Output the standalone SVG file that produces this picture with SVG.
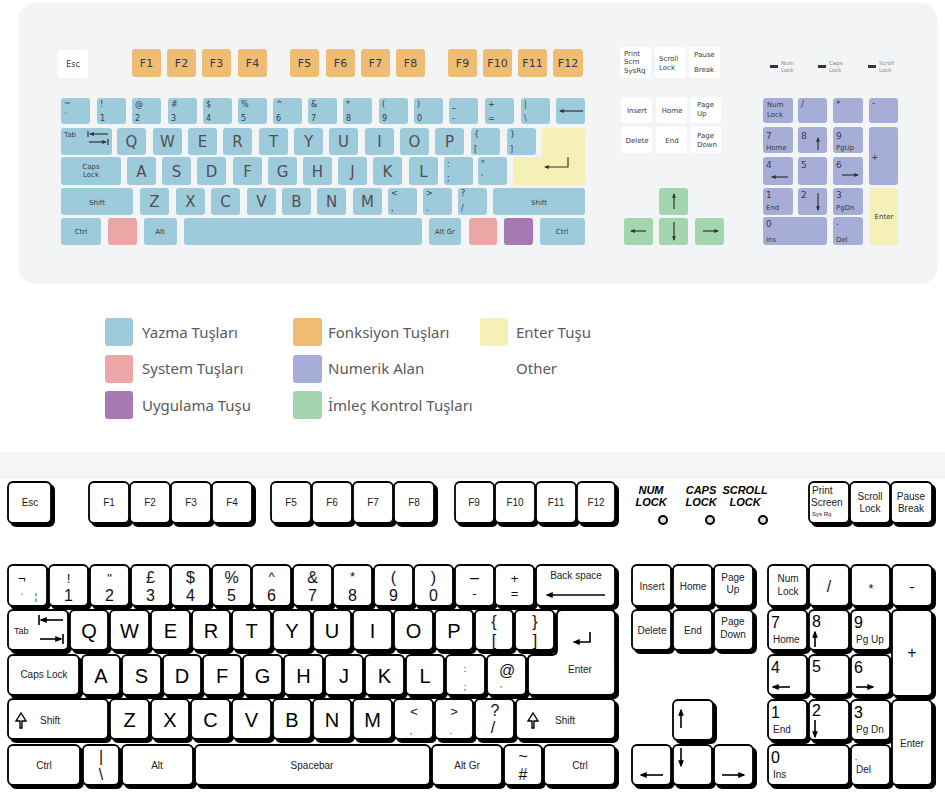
<svg xmlns="http://www.w3.org/2000/svg" xmlns:xlink="http://www.w3.org/1999/xlink" width="945" height="796" viewBox="0 0 945 796">
<defs>
<style>
.tk{stroke:none}
.b{fill:#9ecbdc}.o{fill:#efbc73}.y{fill:#f4f0b6}.p{fill:#eca6a6}.u{fill:#a779b2}.n{fill:#a6aed8}.g{fill:#a3d5ae}.w{fill:#ffffff}
.tt{font-family:"DejaVu Sans","Liberation Sans",sans-serif;fill:#3a3a3a}
.t7{font-size:7px}.t8{font-size:8px}.t9{font-size:9px}.t11{font-size:11px}.t15{font-size:15px;fill:#505050}
.lg{font-family:"Noto Sans","Open Sans",sans-serif;font-size:15px;fill:#5a5a5a}
.bt{font-family:"Liberation Sans",Arial,sans-serif;fill:#000}
.s10{font-size:10px;fill:#222}.s9{font-size:9px;fill:#222}.s13{font-size:13px}.s16{font-size:16px}.s20{font-size:20px}
.ar{stroke:#333;stroke-width:1.2;fill:none}
.ak{stroke:#000;stroke-width:1.6;fill:none}
</style>
<marker id="mg" viewBox="0 0 10 10" refX="8" refY="5" markerWidth="4" markerHeight="4" orient="auto-start-reverse"><path d="M0,1 L10,5 L0,9z" fill="#333"/></marker>
<marker id="mk" viewBox="0 0 10 10" refX="8" refY="5" markerWidth="4.5" markerHeight="4.5" orient="auto-start-reverse"><path d="M0,1 L10,5 L0,9z" fill="#000"/></marker>
</defs>
<rect width="945" height="796" fill="#ffffff"/>
<rect id="panel" x="18" y="3" width="920" height="281" rx="18" fill="#f2f4f6"/>

<!-- TOP COLOURED KEYBOARD -->
<g id="top-keys">
<rect class="w" x="58" y="50" width="30" height="28" rx="3"/>
<g class="o">
<rect x="132" y="49" width="29" height="28" rx="3"/><rect x="167" y="49" width="29" height="28" rx="3"/><rect x="202" y="49" width="29" height="28" rx="3"/><rect x="238" y="49" width="29" height="28" rx="3"/>
<rect x="290" y="49" width="29" height="28" rx="3"/><rect x="326" y="49" width="29" height="28" rx="3"/><rect x="361" y="49" width="29" height="28" rx="3"/><rect x="396" y="49" width="29" height="28" rx="3"/>
<rect x="448" y="49" width="29" height="28" rx="3"/><rect x="483" y="49" width="29" height="28" rx="3"/><rect x="518" y="49" width="29" height="28" rx="3"/><rect x="553" y="49" width="30" height="28" rx="3"/>
</g>
<g class="b">
<rect x="61" y="98" width="29" height="26" rx="3"/><rect x="97" y="98" width="29" height="26" rx="3"/><rect x="132" y="98" width="29" height="26" rx="3"/><rect x="168" y="98" width="29" height="26" rx="3"/><rect x="203" y="98" width="29" height="26" rx="3"/><rect x="238" y="98" width="29" height="26" rx="3"/><rect x="273" y="98" width="29" height="26" rx="3"/><rect x="308" y="98" width="29" height="26" rx="3"/><rect x="343" y="98" width="29" height="26" rx="3"/><rect x="379" y="98" width="29" height="26" rx="3"/><rect x="414" y="98" width="29" height="26" rx="3"/><rect x="449" y="98" width="29" height="26" rx="3"/><rect x="485" y="98" width="29" height="26" rx="3"/><rect x="521" y="98" width="29" height="26" rx="3"/><rect x="556" y="98" width="29" height="26" rx="3"/>
<rect x="61" y="128" width="51" height="27" rx="3"/><rect x="117" y="128" width="29" height="27" rx="3"/><rect x="153" y="128" width="29" height="27" rx="3"/><rect x="188" y="128" width="29" height="27" rx="3"/><rect x="223" y="128" width="29" height="27" rx="3"/><rect x="259" y="128" width="29" height="27" rx="3"/><rect x="294" y="128" width="29" height="27" rx="3"/><rect x="329" y="128" width="29" height="27" rx="3"/><rect x="365" y="128" width="29" height="27" rx="3"/><rect x="400" y="128" width="29" height="27" rx="3"/><rect x="435" y="128" width="29" height="27" rx="3"/><rect x="471" y="128" width="29" height="27" rx="3"/><rect x="507" y="128" width="29" height="27" rx="3"/>
<rect x="61" y="157" width="60" height="28" rx="3"/><rect x="127" y="157" width="29" height="28" rx="3"/><rect x="162" y="157" width="29" height="28" rx="3"/><rect x="197" y="157" width="29" height="28" rx="3"/><rect x="233" y="157" width="29" height="28" rx="3"/><rect x="268" y="157" width="29" height="28" rx="3"/><rect x="303" y="157" width="29" height="28" rx="3"/><rect x="338" y="157" width="29" height="28" rx="3"/><rect x="373" y="157" width="29" height="28" rx="3"/><rect x="409" y="157" width="29" height="28" rx="3"/><rect x="444" y="157" width="29" height="28" rx="3"/><rect x="478" y="157" width="29" height="28" rx="3"/>
<rect x="61" y="188" width="72" height="27" rx="3"/><rect x="140" y="188" width="29" height="27" rx="3"/><rect x="176" y="188" width="29" height="27" rx="3"/><rect x="211" y="188" width="29" height="27" rx="3"/><rect x="247" y="188" width="29" height="27" rx="3"/><rect x="282" y="188" width="29" height="27" rx="3"/><rect x="317" y="188" width="29" height="27" rx="3"/><rect x="353" y="188" width="29" height="27" rx="3"/><rect x="388" y="188" width="29" height="27" rx="3"/><rect x="423" y="188" width="29" height="27" rx="3"/><rect x="458" y="188" width="29" height="27" rx="3"/><rect x="493" y="188" width="92" height="27" rx="3"/>
<rect x="61" y="218" width="40" height="27" rx="3"/><rect x="144" y="218" width="33" height="27" rx="3"/><rect x="184" y="218" width="238" height="27" rx="3"/><rect x="429" y="218" width="32" height="27" rx="3"/><rect x="540" y="218" width="45" height="27" rx="3"/>
</g>
<path class="y" d="M545,128 H582 Q585,128 585,131 V182 Q585,185 582,185 H516 Q513,185 513,182 V160 Q513,157 516,157 H542 V131 Q542,128 545,128 Z"/>
<rect class="p" x="108" y="218" width="29" height="27" rx="3"/>
<rect class="p" x="469" y="218" width="28" height="27" rx="3"/>
<rect class="u" x="504" y="218" width="29" height="27" rx="3"/>
<!-- nav white keys -->
<g class="w">
<rect x="620" y="47" width="31" height="31" rx="3"/><rect x="655" y="47" width="31" height="31" rx="3"/><rect x="689" y="47" width="31" height="31" rx="3"/>
<rect x="621" y="97" width="31" height="26" rx="3"/><rect x="656" y="97" width="31" height="26" rx="3"/><rect x="690" y="97" width="31" height="26" rx="3"/>
<rect x="621" y="127" width="31" height="26" rx="3"/><rect x="656" y="127" width="31" height="26" rx="3"/><rect x="690" y="127" width="31" height="26" rx="3"/>
</g>
<g class="g">
<rect x="659" y="188" width="29" height="27" rx="3"/><rect x="624" y="218" width="29" height="27" rx="3"/><rect x="659" y="218" width="29" height="27" rx="3"/><rect x="695" y="218" width="29" height="27" rx="3"/>
</g>
<g class="n">
<rect x="763" y="98" width="30" height="25" rx="3"/><rect x="798" y="98" width="29" height="25" rx="3"/><rect x="833" y="98" width="30" height="25" rx="3"/><rect x="869" y="98" width="29" height="25" rx="3"/>
<rect x="763" y="127" width="30" height="26" rx="3"/><rect x="798" y="127" width="29" height="26" rx="3"/><rect x="833" y="127" width="30" height="26" rx="3"/><rect x="869" y="127" width="29" height="58" rx="3"/>
<rect x="763" y="157" width="30" height="28" rx="3"/><rect x="798" y="157" width="29" height="28" rx="3"/><rect x="833" y="157" width="30" height="28" rx="3"/>
<rect x="763" y="188" width="30" height="27" rx="3"/><rect x="798" y="188" width="29" height="27" rx="3"/><rect x="833" y="188" width="30" height="27" rx="3"/>
<rect x="763" y="217" width="64" height="28" rx="3"/><rect x="833" y="217" width="30" height="28" rx="3"/>
</g>
<rect class="y" x="869" y="188" width="29" height="57" rx="3"/>
<!-- indicator bars -->
<g fill="#333">
<rect x="770" y="65" width="8" height="3"/><rect x="818" y="65" width="8" height="3"/><rect x="868" y="65" width="8" height="3"/>
</g>
</g>

<g id="top-labels" class="tt">
<text class="t8" x="73" y="67" text-anchor="middle">Esc</text>
<g class="t11" text-anchor="middle">
<text x="146.5" y="67">F1</text><text x="181.5" y="67">F2</text><text x="216.5" y="67">F3</text><text x="252.5" y="67">F4</text>
<text x="304.5" y="67">F5</text><text x="340.5" y="67">F6</text><text x="375.5" y="67">F7</text><text x="410.5" y="67">F8</text>
<text x="462.5" y="67">F9</text><text x="497.5" y="67">F10</text><text x="532.5" y="67">F11</text><text x="568" y="67">F12</text>
</g>
<g class="t8">
<text x="64" y="106">~</text><text x="64" y="120">`</text>
<text x="100" y="107">!</text><text x="100" y="121">1</text>
<text x="135" y="107">@</text><text x="135" y="121">2</text>
<text x="171" y="107">#</text><text x="171" y="121">3</text>
<text x="206" y="107">$</text><text x="206" y="121">4</text>
<text x="241" y="107">%</text><text x="241" y="121">5</text>
<text x="276" y="107">^</text><text x="276" y="121">6</text>
<text x="311" y="107">&amp;</text><text x="311" y="121">7</text>
<text x="346" y="107">*</text><text x="346" y="121">8</text>
<text x="382" y="107">(</text><text x="382" y="121">9</text>
<text x="417" y="107">)</text><text x="417" y="121">0</text>
<text x="452" y="107">_</text><text x="452" y="121">-</text>
<text x="488" y="107">+</text><text x="488" y="121">=</text>
<text x="524" y="107">|</text><text x="524" y="121">\</text>
<text x="474" y="137">{</text><text x="474" y="152">[</text>
<text x="510" y="137">}</text><text x="510" y="152">]</text>
<text x="447" y="167">:</text><text x="447" y="181">;</text>
<text x="481" y="167">"</text><text x="481" y="181">'</text>
<text x="391" y="196">&lt;</text><text x="391" y="211">,</text>
<text x="426" y="196">&gt;</text><text x="426" y="211">.</text>
<text x="461" y="196">?</text><text x="461" y="211">/</text>
</g>
<g class="t15" text-anchor="middle">
<text x="131.5" y="147">Q</text><text x="167.5" y="147">W</text><text x="202.5" y="147">E</text><text x="237.5" y="147">R</text><text x="273.5" y="147">T</text><text x="308.5" y="147">Y</text><text x="343.5" y="147">U</text><text x="379.5" y="147">I</text><text x="414.5" y="147">O</text><text x="449.5" y="147">P</text>
<text x="141.5" y="177">A</text><text x="176.5" y="177">S</text><text x="211.5" y="177">D</text><text x="247.5" y="177">F</text><text x="282.5" y="177">G</text><text x="317.5" y="177">H</text><text x="352.5" y="177">J</text><text x="387.5" y="177">K</text><text x="423.5" y="177">L</text>
<text x="154.5" y="207">Z</text><text x="190.5" y="207">X</text><text x="225.5" y="207">C</text><text x="261.5" y="207">V</text><text x="296.5" y="207">B</text><text x="331.5" y="207">N</text><text x="367.5" y="207">M</text>
</g>
<g class="t7" text-anchor="middle">
<text x="70" y="137">Tab</text>
<text x="91" y="169">Caps</text><text x="91" y="177">Lock</text>
<text x="97" y="205">Shift</text><text x="539" y="205">Shift</text>
<text x="81" y="234">Ctrl</text><text x="160" y="234">Alt</text><text x="445" y="234">Alt Gr</text><text x="562" y="234">Ctrl</text>
<text x="884" y="219">Enter</text>
<text x="637" y="113">Insert</text><text x="672" y="113">Home</text>
<text x="637" y="143">Delete</text><text x="672" y="143">End</text>
</g>
<g class="t7">
<text x="624" y="56">Print</text><text x="624" y="64">Scrn</text><text x="624" y="73">SysRq</text>
<text x="659" y="61">Scroll</text><text x="659" y="70">Lock</text>
<text x="694" y="57">Pause</text><text x="694" y="72">Break</text>
<text x="697" y="107">Page</text><text x="697" y="116">Up</text>
<text x="697" y="138">Page</text><text x="697" y="147">Down</text>
<text x="767" y="107">Num</text><text x="767" y="117">Lock</text>
<text x="766" y="150">Home</text><text x="836" y="150">PgUp</text>
<text x="766" y="210">End</text><text x="836" y="210">PgDn</text>
<text x="766" y="242">Ins</text><text x="836" y="242">Del</text>
</g>
<g class="t9">
<text x="801" y="107">/</text><text x="836" y="107">*</text><text x="872" y="106">-</text>
<text x="766" y="139">7</text><text x="801" y="139">8</text><text x="836" y="139">9</text>
<text x="871" y="160">+</text>
<text x="766" y="168">4</text><text x="801" y="168">5</text><text x="836" y="168">6</text>
<text x="766" y="198">1</text><text x="801" y="198">2</text><text x="836" y="198">3</text>
<text x="766" y="227">0</text><text x="836" y="225">.</text>
</g>
<g style="font-size:5.5px;fill:#8a8a8a">
<text x="781" y="65">Num</text><text x="781" y="72">Lock</text>
<text x="829" y="65">Caps</text><text x="829" y="72">Lock</text>
<text x="879" y="65">Scroll</text><text x="879" y="72">Lock</text>
</g>
</g>

<g id="top-arrows" class="ar">
<path d="M108,134 H90" marker-end="url(#mg)"/><path d="M88,131 V137"/>
<path d="M89,142 H106" marker-end="url(#mg)"/><path d="M108,139 V145"/>
<path d="M583,111 H560" marker-end="url(#mg)"/>
<path d="M568,157 V167 H545" marker-end="url(#mg)"/>
<path d="M818,150 V138" marker-end="url(#mg)"/>
<path d="M788,177 H772" marker-end="url(#mg)"/>
<path d="M842,175 H858" marker-end="url(#mg)"/>
<path d="M818,193 V210" marker-end="url(#mg)"/>
<path d="M674,209 V194" marker-end="url(#mg)"/>
<path d="M646,231 H631" marker-end="url(#mg)"/>
<path d="M674,222 V240" marker-end="url(#mg)"/>
<path d="M703,231 H718" marker-end="url(#mg)"/>
</g>

<!-- LEGEND -->
<g id="legend">
<rect class="b" x="105" y="318" width="28" height="28" rx="3"/>
<rect class="p" x="105" y="355" width="28" height="28" rx="3"/>
<rect class="u" x="105" y="391" width="28" height="28" rx="3"/>
<rect class="o" x="293" y="318" width="29" height="28" rx="3"/>
<rect class="n" x="293" y="355" width="29" height="28" rx="3"/>
<rect class="g" x="293" y="391" width="29" height="28" rx="3"/>
<rect class="y" x="480" y="318" width="28" height="28" rx="3"/>
<text class="lg" x="142" y="338">Yazma Tuşları</text>
<text class="lg" x="142" y="374">System Tuşları</text>
<text class="lg" x="142" y="411">Uygulama Tuşu</text>
<text class="lg" x="328" y="338">Fonksiyon Tuşları</text>
<text class="lg" x="328" y="374">Numerik Alan</text>
<text class="lg" x="328" y="411">İmleç Kontrol Tuşları</text>
<text class="lg" x="516" y="338">Enter Tuşu</text>
<text class="lg" x="516" y="374">Other</text>
</g>

<rect x="0" y="452" width="945" height="27" fill="#f5f5f5"/>

<!-- BOTTOM BLACK & WHITE KEYBOARD -->
<use xlink:href="#bkr" href="#bkr" fill="#000" stroke="#000" stroke-width="2" transform="translate(3,3)"/>
<g fill="#fff" stroke="#000" stroke-width="1.8">
<g id="bkr">
<rect x="8" y="482" width="43" height="41" rx="5"/>
<rect x="89" y="482" width="40" height="41" rx="5"/><rect x="130" y="482" width="40" height="41" rx="5"/><rect x="171" y="482" width="40" height="41" rx="5"/><rect x="212" y="482" width="40" height="41" rx="5"/>
<rect x="271" y="482" width="40" height="41" rx="5"/><rect x="312" y="482" width="40" height="41" rx="5"/><rect x="353" y="482" width="40" height="41" rx="5"/><rect x="394" y="482" width="40" height="41" rx="5"/>
<rect x="455" y="482" width="39" height="41" rx="5"/><rect x="495" y="482" width="40" height="41" rx="5"/><rect x="536" y="482" width="40" height="41" rx="5"/><rect x="577" y="482" width="38" height="41" rx="5"/>
<rect x="809" y="482" width="40" height="41" rx="5"/><rect x="850" y="482" width="40" height="41" rx="5"/><rect x="891" y="482" width="41" height="41" rx="5"/>

<rect x="8" y="565" width="39" height="41" rx="5"/><rect x="49" y="565" width="39" height="41" rx="5"/><rect x="90" y="565" width="39" height="41" rx="5"/><rect x="131" y="565" width="39" height="41" rx="5"/><rect x="171" y="565" width="39" height="41" rx="5"/><rect x="212" y="565" width="39" height="41" rx="5"/><rect x="252" y="565" width="39" height="41" rx="5"/><rect x="293" y="565" width="39" height="41" rx="5"/><rect x="333" y="565" width="39" height="41" rx="5"/><rect x="374" y="565" width="39" height="41" rx="5"/><rect x="414" y="565" width="39" height="41" rx="5"/><rect x="455" y="565" width="39" height="41" rx="5"/><rect x="495" y="565" width="39" height="41" rx="5"/><rect x="536" y="565" width="79" height="41" rx="5"/>

<rect x="8" y="610" width="60" height="40" rx="5"/><rect x="70" y="610" width="38" height="40" rx="5"/><rect x="110" y="610" width="39" height="40" rx="5"/><rect x="151" y="610" width="39" height="40" rx="5"/><rect x="192" y="610" width="38" height="40" rx="5"/><rect x="232" y="610" width="39" height="40" rx="5"/><rect x="273" y="610" width="38" height="40" rx="5"/><rect x="313" y="610" width="38" height="40" rx="5"/><rect x="353" y="610" width="39" height="40" rx="5"/><rect x="394" y="610" width="39" height="40" rx="5"/><rect x="435" y="610" width="38" height="40" rx="5"/><rect x="475" y="610" width="38" height="40" rx="5"/><rect x="515" y="610" width="39" height="40" rx="5"/>
<path d="M562,610 H610 Q615,610 615,615 V690 Q615,695 610,695 H533 Q528,695 528,690 V660 Q528,655 533,655 H552 Q557,655 557,650 V615 Q557,610 562,610 Z"/>

<rect x="8" y="655" width="71" height="40" rx="5"/><rect x="82" y="655" width="38" height="40" rx="5"/><rect x="122" y="655" width="39" height="40" rx="5"/><rect x="163" y="655" width="38" height="40" rx="5"/><rect x="203" y="655" width="38" height="40" rx="5"/><rect x="243" y="655" width="39" height="40" rx="5"/><rect x="284" y="655" width="39" height="40" rx="5"/><rect x="325" y="655" width="38" height="40" rx="5"/><rect x="365" y="655" width="39" height="40" rx="5"/><rect x="406" y="655" width="38" height="40" rx="5"/><rect x="446" y="655" width="39" height="40" rx="5"/><rect x="487" y="655" width="39" height="40" rx="5"/>

<rect x="8" y="699" width="100" height="40" rx="5"/><rect x="110" y="699" width="39" height="40" rx="5"/><rect x="151" y="699" width="38" height="40" rx="5"/><rect x="191" y="699" width="39" height="40" rx="5"/><rect x="232" y="699" width="39" height="40" rx="5"/><rect x="273" y="699" width="38" height="40" rx="5"/><rect x="313" y="699" width="38" height="40" rx="5"/><rect x="353" y="699" width="39" height="40" rx="5"/><rect x="394" y="699" width="39" height="40" rx="5"/><rect x="435" y="699" width="38" height="40" rx="5"/><rect x="475" y="699" width="39" height="40" rx="5"/><rect x="516" y="699" width="99" height="40" rx="5"/>

<rect x="8" y="745" width="72" height="40" rx="5"/><rect x="83" y="745" width="36" height="40" rx="5"/><rect x="122" y="745" width="71" height="40" rx="5"/><rect x="195" y="745" width="235" height="40" rx="5"/><rect x="432" y="745" width="70" height="40" rx="5"/><rect x="504" y="745" width="38" height="40" rx="5"/><rect x="544" y="745" width="71" height="40" rx="5"/>

<rect x="632" y="565" width="39" height="41" rx="5"/><rect x="673" y="565" width="39" height="41" rx="5"/><rect x="714" y="565" width="39" height="41" rx="5"/>
<rect x="632" y="610" width="39" height="40" rx="5"/><rect x="673" y="610" width="39" height="40" rx="5"/><rect x="714" y="610" width="39" height="40" rx="5"/>
<rect x="673" y="700" width="40" height="40" rx="5"/>
<rect x="632" y="745" width="39" height="40" rx="5"/><rect x="673" y="745" width="39" height="40" rx="5"/><rect x="714" y="745" width="39" height="40" rx="5"/>

<rect x="768" y="565" width="39" height="41" rx="5"/><rect x="809" y="565" width="40" height="41" rx="5"/><rect x="851" y="565" width="39" height="41" rx="5"/><rect x="892" y="565" width="40" height="41" rx="5"/>
<rect x="768" y="610" width="39" height="40" rx="5"/><rect x="809" y="610" width="40" height="40" rx="5"/><rect x="851" y="610" width="39" height="40" rx="5"/><rect x="892" y="610" width="40" height="86" rx="5"/>
<rect x="768" y="655" width="39" height="40" rx="5"/><rect x="809" y="655" width="40" height="40" rx="5"/><rect x="851" y="655" width="39" height="40" rx="5"/>
<rect x="768" y="700" width="39" height="40" rx="5"/><rect x="809" y="700" width="40" height="40" rx="5"/><rect x="851" y="700" width="39" height="40" rx="5"/><rect x="892" y="700" width="40" height="85" rx="5"/>
<rect x="768" y="745" width="81" height="40" rx="5"/><rect x="851" y="745" width="39" height="40" rx="5"/>
</g>
</g>

<g id="leds" fill="#ddd" stroke="#000" stroke-width="2">
<circle cx="663" cy="520" r="4"/><circle cx="710" cy="520" r="4"/><circle cx="763" cy="520" r="4"/>
</g>

<g id="bottom-labels" class="bt">
<g style="font-size:11px;font-weight:bold;font-style:italic" text-anchor="middle">
<text x="651" y="494">NUM</text><text x="651" y="506">LOCK</text>
<text x="701" y="494">CAPS</text><text x="701" y="506">LOCK</text>
<text x="745" y="494">SCROLL</text><text x="745" y="506">LOCK</text>
</g>
<g class="s10" text-anchor="middle">
<text x="30" y="506">Esc</text>
<text x="109" y="506">F1</text><text x="150" y="506">F2</text><text x="191" y="506">F3</text><text x="232" y="506">F4</text>
<text x="291" y="506">F5</text><text x="332" y="506">F6</text><text x="373" y="506">F7</text><text x="414" y="506">F8</text>
<text x="474" y="506">F9</text><text x="515" y="506">F10</text><text x="556" y="506">F11</text><text x="596" y="506">F12</text>
<text x="870" y="500">Scroll</text><text x="870" y="512">Lock</text>
<text x="911" y="500">Pause</text><text x="911" y="512">Break</text>
<text x="576" y="579">Back space</text>
<text x="580" y="673">Enter</text>
<text x="44" y="678">Caps Lock</text>
<text x="44" y="769">Ctrl</text><text x="157" y="769">Alt</text><text x="312" y="769">Spacebar</text><text x="467" y="769">Alt Gr</text><text x="580" y="769">Ctrl</text>
<text x="652" y="590">Insert</text><text x="693" y="590">Home</text>
<text x="652" y="634">Delete</text><text x="693" y="634">End</text>
<text x="733" y="581">Page</text><text x="733" y="593">Up</text>
<text x="733" y="625">Page</text><text x="733" y="638">Down</text>
<text x="788" y="582">Num</text><text x="788" y="595">Lock</text>
<text x="912" y="747">Enter</text>
</g>
<g class="s10">
<text x="812" y="494">Print</text><text x="811" y="506">Screen</text>
<text x="812" y="516" style="font-size:6px">Sys Rq</text>
<text x="14" y="634" class="s9">Tab</text>
<text x="40" y="724">Shift</text><text x="555" y="724">Shift</text>
<text x="773" y="643">Home</text><text x="856" y="643">Pg Up</text>
<text x="773" y="733">End</text><text x="856" y="733">Pg Dn</text>
<text x="773" y="778">Ins</text><text x="856" y="773">Del</text>
</g>
<g class="s16" text-anchor="middle" fill="#111">
<text x="68.5" y="583" class="s13">!</text><text x="68.5" y="601">1</text>
<text x="109.5" y="583" class="s13">"</text><text x="109.5" y="601">2</text>
<text x="150.5" y="583">£</text><text x="150.5" y="601">3</text>
<text x="190.5" y="583">$</text><text x="190.5" y="601">4</text>
<text x="231.5" y="583">%</text><text x="231.5" y="601">5</text>
<text x="271.5" y="581" class="s13">^</text><text x="271.5" y="601">6</text>
<text x="312.5" y="583">&amp;</text><text x="312.5" y="601">7</text>
<text x="352.5" y="581" class="s13">*</text><text x="352.5" y="601">8</text>
<text x="393.5" y="583">(</text><text x="393.5" y="601">9</text>
<text x="433.5" y="583">)</text><text x="433.5" y="601">0</text>
<text x="474.5" y="583">–</text><text x="474.5" y="598" class="s13">-</text>
<text x="514.5" y="583" class="s13">+</text><text x="514.5" y="598" class="s13">=</text>
<text x="494" y="627">{</text><text x="494" y="646">[</text>
<text x="535" y="627">}</text><text x="535" y="646">]</text>
<text x="507" y="676">@</text>
<text x="414" y="716" class="s13">&lt;</text><text x="454" y="716" class="s13">&gt;</text><text x="495" y="716">?</text><text x="493" y="733">/</text>
<text x="101" y="762">|</text><text x="101" y="780">\</text>
<text x="523" y="762">~</text><text x="523" y="780">#</text>
<text x="829" y="592">/</text><text x="871" y="593" class="s13">*</text><text x="912" y="592">-</text>
<text x="912" y="658">+</text>
</g>
<g class="s9" fill="#555" text-anchor="middle">
<text x="465" y="672">:</text><text x="465" y="690">;</text>
<text x="501" y="692">'</text>
<text x="411" y="734">,</text><text x="451" y="734">.</text>
<text x="22" y="600">`</text><text x="36" y="600">¦</text>
<text x="856" y="760">.</text>
</g>
<g class="s16">
<text x="18" y="583" class="s13">¬</text>
<text x="771" y="628">7</text><text x="812" y="627">8</text><text x="854" y="628">9</text>
<text x="771" y="673">4</text><text x="812" y="672">5</text><text x="854" y="673">6</text>
<text x="771" y="718">1</text><text x="812" y="716">2</text><text x="854" y="718">3</text>
<text x="771" y="763">0</text>
</g>
<g class="s20" text-anchor="middle">
<text x="89" y="638">Q</text><text x="129.5" y="638">W</text><text x="170.5" y="638">E</text><text x="211" y="638">R</text><text x="251.5" y="638">T</text><text x="292" y="638">Y</text><text x="332" y="638">U</text><text x="372.5" y="638">I</text><text x="413.5" y="638">O</text><text x="454" y="638">P</text>
<text x="101" y="683">A</text><text x="141.5" y="683">S</text><text x="182" y="683">D</text><text x="222" y="683">F</text><text x="262.5" y="683">G</text><text x="303.5" y="683">H</text><text x="344" y="683">J</text><text x="384.5" y="683">K</text><text x="425" y="683">L</text>
<text x="129.5" y="727">Z</text><text x="170" y="727">X</text><text x="210.5" y="727">C</text><text x="251.5" y="727">V</text><text x="292" y="727">B</text><text x="332" y="727">N</text><text x="372.5" y="727">M</text>
</g>
</g>

<g id="bottom-arrows" class="ak">
<path d="M63,620 H41" marker-end="url(#mk)"/><path d="M39,615 V625"/>
<path d="M40,639 H61" marker-end="url(#mk)"/><path d="M63,634 V644"/>
<path d="M605,595 H547" marker-end="url(#mk)"/>
<path d="M590,632 V642 H574" marker-end="url(#mk)"/>
<path d="M20,728 V721 H16 L21,713 L26,721 H22 V728 Z" stroke-width="1.4"/>
<path d="M532,728 V721 H528 L533,713 L538,721 H534 V728 Z" stroke-width="1.4"/>
<path d="M681,728 V710" marker-end="url(#mk)"/>
<path d="M663,775 H641" marker-end="url(#mk)"/>
<path d="M681,748 V766" marker-end="url(#mk)"/>
<path d="M722,775 H744" marker-end="url(#mk)"/>
<path d="M815,647 V632" marker-end="url(#mk)"/>
<path d="M790,687 H773" marker-end="url(#mk)"/>
<path d="M856,687 H873" marker-end="url(#mk)"/>
<path d="M815,720 V737" marker-end="url(#mk)"/>
</g>
</svg>
